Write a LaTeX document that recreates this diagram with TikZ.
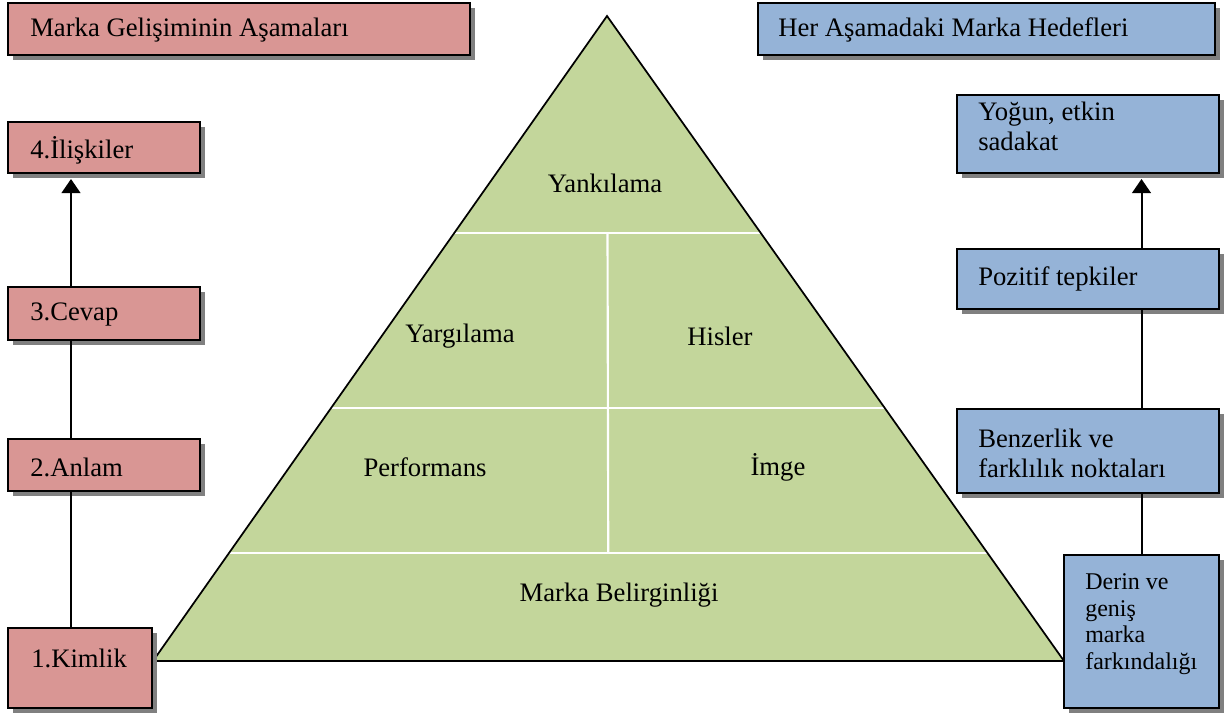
\documentclass[tikz,border=0pt]{standalone}
\usepackage{fontspec}
\setmainfont{Liberation Serif}
\usetikzlibrary{shadows,arrows.meta,calc}
\definecolor{boxred}{HTML}{D99694}
\definecolor{boxblue}{HTML}{95B3D7}
\definecolor{pyrgreen}{HTML}{C3D69B}
\begin{document}
\begin{tikzpicture}[x=0.75pt,y=-0.75pt,
  basebox/.style={draw=black, line width=1.5pt, inner sep=0pt,
    drop shadow={shadow xshift=4pt, shadow yshift=-4pt, fill=black!50, opacity=1}},
  stagebox/.style={basebox, fill=boxred},
  goalbox/.style={basebox, fill=boxblue},
  txt/.style={anchor=west, inner sep=0pt, align=left, font=\fontsize{20}{22.5}\selectfont},
  smalltxt/.style={anchor=west, inner sep=0pt, align=left, font=\fontsize{18}{20}\selectfont},
  lvl/.style={inner sep=0pt, font=\fontsize{20}{22.5}\selectfont},
  conn/.style={line width=1.5pt},
  arr/.style={conn, -{Triangle[width=14pt,length=10.5pt]}},
  divider/.style={draw=white, line width=1.6pt}]
\useasboundingbox (0,0) rectangle (1227,713);

% pyramid
\coordinate (apex) at (607,16);
\coordinate (bl) at (153,661);
\coordinate (br) at (1064,661);
\fill[pyrgreen] (apex) -- (bl) -- (br) -- cycle;
\coordinate (l1) at ($(apex)!0.3364!(bl)$);
\coordinate (r1) at ($(apex)!0.3364!(br)$);
\coordinate (l2) at ($(apex)!0.6078!(bl)$);
\coordinate (r2) at ($(apex)!0.6078!(br)$);
\coordinate (l3) at ($(apex)!0.8326!(bl)$);
\coordinate (r3) at ($(apex)!0.8326!(br)$);
\draw[divider] (l1) -- (r1);
\draw[divider] (l2) -- (r2);
\draw[divider] (l3) -- (r3);
\draw[divider] ($(l1)!0.5!(r1)$) -- ($(l3)!0.5!(r3)$);
\draw[line width=1.3pt, line join=miter] (apex) -- (bl) -- (br) -- cycle;

\node[lvl] (yank) at (605,183) {Yankılama};
\node[lvl] (yarg) at (460,336) {Yargılama};
\node[lvl] (hisl) at (720,336) {Hisler};
\node[lvl] (perf) at (425,467) {Performans};
\node[lvl] (imge) at (778,467) {İmge};
\node[lvl] (belir) at (619,595) {Marka Belirginliği};

% left column: stages
\node[stagebox, minimum width=346.5pt, minimum height=39pt] (ltitle) at (239,29) {};
\node[stagebox, minimum width=144pt, minimum height=38.25pt] (iliski) at (104,147.5) {};
\node[stagebox, minimum width=144pt, minimum height=39.75pt] (cevap) at (104,313.5) {};
\node[stagebox, minimum width=144pt, minimum height=39pt] (anlam) at (104,465) {};
\node[stagebox, minimum width=108pt, minimum height=60pt] (kimlik) at (80,668) {};

\node[txt] (ltitletxt) at (30,30) {Marka Gelişiminin Aşamaları};
\node[txt] (iliskitxt) at (30,150) {4.İlişkiler};
\node[txt] (cevaptxt) at (30,315) {3.Cevap};
\node[txt] (anlamtxt) at (30,467) {2.Anlam};
\node[txt] (kimliktxt) at (31,658) {1.Kimlik};

% right column: goals
\node[goalbox, minimum width=342.75pt, minimum height=39pt] (rtitle) at (986.5,29) {};
\node[goalbox, minimum width=196.5pt, minimum height=58.5pt] (sadakat) at (1088,134) {};
\node[goalbox, minimum width=196.5pt, minimum height=45pt] (pozitif) at (1088,279) {};
\node[goalbox, minimum width=196.5pt, minimum height=63pt] (benzer) at (1088,451) {};
\node[goalbox, minimum width=116.25pt, minimum height=114.75pt] (derin) at (1141.5,631.5) {};

\node[txt] (rtitletxt) at (778,30) {Her Aşamadaki Marka Hedefleri};
\node[txt] (sadakattxt) at (978,126) {Yoğun, etkin\\sadakat};
\node[txt] (pozitiftxt) at (978,279) {Pozitif tepkiler};
\node[txt] (benzertxt) at (978,453) {Benzerlik ve\\farklılık noktaları};
\node[smalltxt] (derintxt) at (1085,624) {Derin ve\\geniş\\marka\\farkındalığı};

% connectors
\coordinate (lx) at (71,0);
\draw[conn] (lx |- kimlik.north) -- (lx |- anlam.south);
\draw[conn] (lx |- anlam.north) -- (lx |- cevap.south);
\draw[arr] (lx |- cevap.north) -- ([yshift=-3.75pt]lx |- iliski.south);

\draw[conn] (derin.north) -- (derin.north |- benzer.south);
\draw[conn] (derin.north |- benzer.north) -- (derin.north |- pozitif.south);
\draw[arr] (derin.north |- pozitif.north) -- ([yshift=-3.75pt]derin.north |- sadakat.south);
\end{tikzpicture}
\end{document}
